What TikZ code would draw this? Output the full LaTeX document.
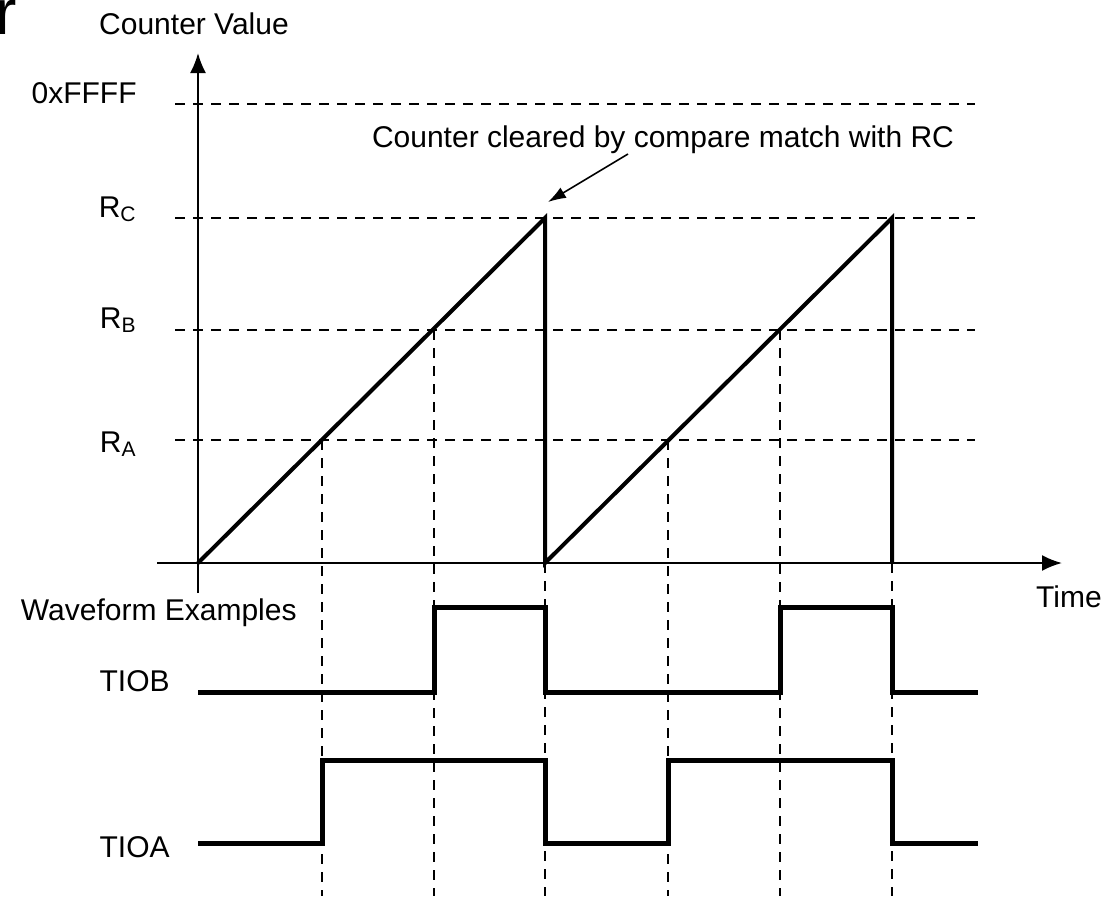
\documentclass[tikz,border=0pt]{standalone}
\usepackage{fontspec}
\setmainfont{Liberation Sans}
\usetikzlibrary{arrows.meta}

\begin{document}
\begin{tikzpicture}[x=0.5pt, y=-0.5pt, font=\fontsize{15}{18}\selectfont]
\tikzset{axis/.style={line width=1pt, -{Latex[length=10pt, width=8pt]}}}
\tikzset{level/.style={dash pattern=on 5pt off 4pt, line width=0.8pt}}
\tikzset{ramp/.style={line width=2pt, line join=miter}}
\tikzset{wave/.style={line width=2.5pt, line join=miter}}
\tikzset{lbl/.style={anchor=base east, inner sep=0pt}}
\useasboundingbox (0,0) rectangle (1119,896);
% stray heading letter, cut by the page edge
\node (hd) [anchor=base west, inner sep=0pt, font=\fontsize{32}{32}\selectfont] at (-5,34) {r};
% axes
\coordinate (y0) at (198,593);
\coordinate (y1) at (198,53);
\coordinate (t0) at (157,563);
\coordinate (t1) at (1062,563);
\draw[axis] (y0) -- (y1);
\draw[axis] (t0) -- (t1);
\node (cv) at (194,24) {Counter Value};
\node (time) [anchor=base, inner sep=0pt] at (1069,607) {Time};
% compare levels
\foreach \y in {104, 218, 330, 440}
  \draw[level] (175,\y) -- (975,\y);
\node (ffff) [lbl] at (137,103) {0xFFFF};
\node (rc) [lbl] at (137,217) {R\textsubscript{C}};
\node (rb) [lbl] at (137,328) {R\textsubscript{B}};
\node (ra) [lbl] at (137,452) {R\textsubscript{A}};
% match instants
\foreach \x/\y in {322/440, 434/330, 545/563, 668/440, 780/330, 892/563}
  \draw[level] (\x,\y) -- (\x,896);
% counter
\draw[ramp] (198,563) -- (545,218) -- (545,563) -- (892,218) -- (892,563);
\node (note) [anchor=base, inner sep=0pt] at (663,147) {Counter cleared by compare match with RC};
\coordinate (tail) at (628,154);
\coordinate (tip) at (548,202);
\draw[line width=0.8pt, -{Latex[length=9pt, width=6pt]}] (tail) -- (tip);
% outputs
\node (wf) [lbl] at (297,620) {Waveform Examples};
\node (tiob) [lbl] at (170,691) {TIOB};
\node (tioa) [lbl] at (170,857) {TIOA};
\draw[wave] (198,692) -- (434,692) -- (434,607) -- (545,607) -- (545,692)
  -- (780,692) -- (780,607) -- (892,607) -- (892,692) -- (978,692);
\draw[wave] (198,843) -- (322,843) -- (322,760) -- (545,760) -- (545,843)
  -- (668,843) -- (668,760) -- (892,760) -- (892,843) -- (978,843);
\end{tikzpicture}
\end{document}
